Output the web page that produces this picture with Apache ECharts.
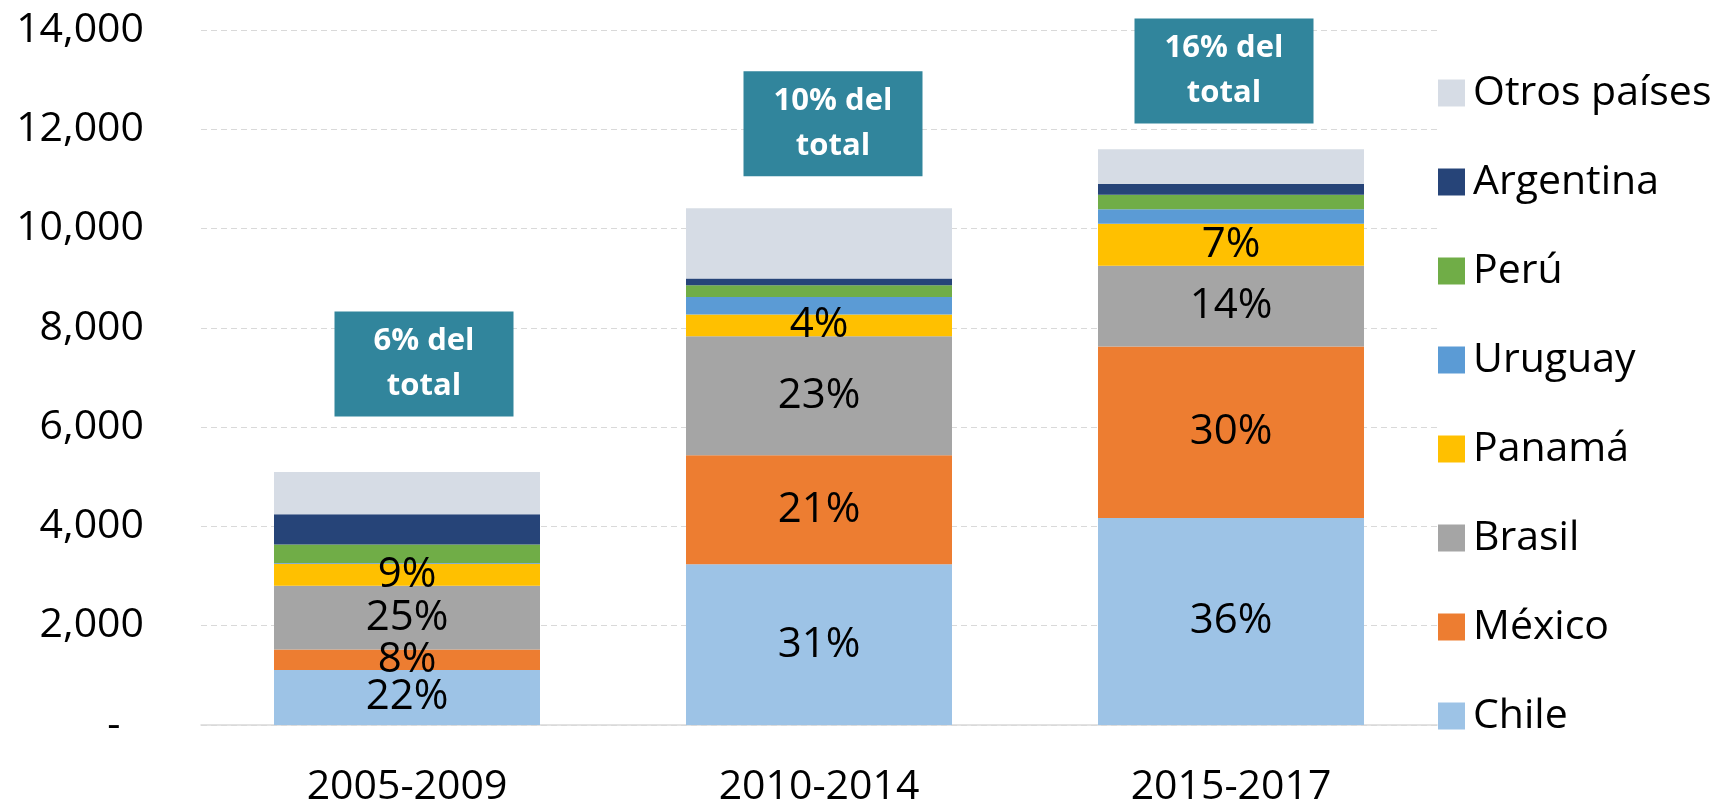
<!DOCTYPE html>
<html>
<head>
<meta charset="utf-8">
<script src="https://cdn.jsdelivr.net/npm/echarts@6/dist/echarts.min.js"></script>
<style>
html,body{margin:0;padding:0;background:#fff;}
#chart{width:1717px;height:805px;}
</style>
</head>
<body>
<div id="chart"></div>
<script>
const categories = ['2005-2009', '2010-2014', '2015-2017'];
const chile     = [1107, 3239, 4170];
const mexico    = [414, 2193, 3456];
const brasil    = [1283, 2401, 1625];
const panama    = [445, 435, 848];
const uruguay   = [15, 352, 290];
const peru      = [373, 238, 290];
const argentina = [610, 134, 217];
const otros     = [849, 1418, 704];

const chileLbl  = ['22%', '31%', '36%'];
const mexicoLbl = ['8%', '21%', '30%'];
const brasilLbl = ['25%', '23%', '14%'];
const panamaLbl = ['9%', '4%', '7%'];

const boxText = ['6% del\ntotal', '10% del\ntotal', '16% del\ntotal'];
const boxValue = [7270, 12110, 13175];

const legendOrder = ['Otros países', 'Argentina', 'Perú', 'Uruguay', 'Panamá', 'Brasil', 'México', 'Chile'];

const FONT = 'Open Sans';

function barSeries(name, data, color, labels) {
  const s = {
    name: name,
    type: 'bar',
    stack: 'total',
    data: data,
    barWidth: 266,
    itemStyle: { color: color },
    emphasis: { disabled: true }
  };
  if (labels) {
    s.label = {
      show: true,
      position: 'inside',
      color: '#000',
      fontFamily: FONT,
      fontSize: 42,
      formatter: p => labels[p.dataIndex]
    };
  }
  return s;
}

const chart = echarts.init(document.getElementById('chart'));
chart.setOption({
  animation: false,
  grid: { left: 201, right: 280, top: 30, bottom: 80, containLabel: false, outerBoundsMode: 'none' },
  legend: {
    data: legendOrder,
    orient: 'vertical',
    left: 1433,
    top: 66,
    itemWidth: 27,
    itemHeight: 27,
    itemGap: 45,
    icon: 'rect',
    textStyle: { fontFamily: FONT, fontSize: 41, color: '#000', lineHeight: 44, padding: [0, 0, 0, 3] }
  },
  xAxis: {
    type: 'category',
    data: categories,
    axisTick: { show: false },
    axisLine: { lineStyle: { color: '#d9d9d9', width: 1.5 } },
    axisLabel: { color: '#000', fontFamily: FONT, fontSize: 41, margin: 42 }
  },
  yAxis: {
    type: 'value',
    min: 0,
    max: 14000,
    interval: 2000,
    axisLine: { show: false },
    axisTick: { show: false },
    splitLine: { lineStyle: { color: '#d9d9d9', type: [6, 4], width: 1.2 } },
    axisLabel: {
      color: '#000',
      fontFamily: FONT,
      fontSize: 41,
      margin: 57,
      formatter: v => v === 0 ? '-\u2007' : v.toLocaleString('en-US')
    }
  },
  series: [
    barSeries('Chile', chile, '#9DC3E6', chileLbl),
    barSeries('México', mexico, '#ED7D31', mexicoLbl),
    barSeries('Brasil', brasil, '#A5A5A5', brasilLbl),
    barSeries('Panamá', panama, '#FFC000', panamaLbl),
    barSeries('Uruguay', uruguay, '#5B9BD5'),
    barSeries('Perú', peru, '#70AD47'),
    barSeries('Argentina', argentina, '#264478'),
    barSeries('Otros países', otros, '#D6DCE5'),
    {
      name: 'boxes',
      type: 'scatter',
      symbol: 'rect',
      symbolSize: [179, 105],
      itemStyle: { color: '#31859C', opacity: 1 },
      emphasis: { disabled: true },
      z: 10,
      data: boxValue.map((v, i) => ({
        value: [i, v],
        symbolOffset: [[17, 0], [14, 0], [-7, 0]][i]
      })),
      label: {
        show: true,
        position: 'inside',
        color: '#fff',
        fontFamily: FONT,
        fontWeight: 'bold',
        fontSize: 31,
        lineHeight: 45,
        align: 'center',
        formatter: p => boxText[p.dataIndex]
      }
    }
  ]
});
</script>
</body>
</html>
